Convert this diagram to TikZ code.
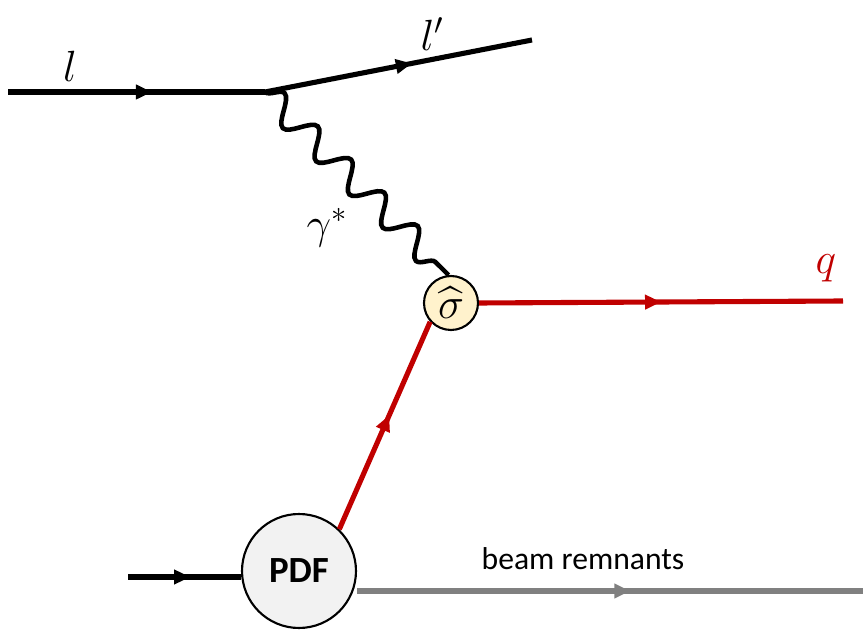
\documentclass[tikz,border=0pt]{standalone}
\usepackage{fontspec}
\setsansfont{Carlito}
\usepackage{amsmath}
\usepackage{xcolor}
\usetikzlibrary{arrows.meta,decorations.markings,decorations.pathmorphing}

\definecolor{quarkred}{HTML}{C00000}
\definecolor{remnantgray}{HTML}{808080}
\definecolor{vertexfill}{HTML}{FFF2CC}
\definecolor{pdffill}{HTML}{F2F2F2}

\begin{document}
\begin{tikzpicture}[
    x=0.02cm, y=-0.02cm,
    every node/.style={inner sep=0pt},
    midarrow/.style={
        decoration={markings,
            mark=at position #1 with {\arrow{Triangle[length=3.2mm,width=2.8mm]}}},
        postaction={decorate}
    },
    fermion/.style={line width=2.9pt, draw=black, midarrow=#1},
    quark/.style={line width=2.9pt, draw=quarkred, color=quarkred, midarrow=#1},
    remnant/.style={line width=2.9pt, draw=remnantgray, color=remnantgray, midarrow=#1},
    photon/.style={line width=2.6pt, decorate,
        decoration={snake, segment length=9.4mm, amplitude=2.6mm}},
    blob/.style={circle, draw=black, line width=1.2pt}
]
\useasboundingbox (0,0) rectangle (863,631);

% Lepton side
\coordinate (lin) at (8,92);
\coordinate (vtx) at (265,92);
\coordinate (lout) at (532,40);

% Blobs
\node[blob, fill=vertexfill, minimum size=1.08cm] (sigma) at (451,303)
    {\fontsize{26}{28}\selectfont$\widehat{\sigma}$};
\node[blob, fill=pdffill, minimum size=2.28cm] (pdf) at (299,571)
    {\fontsize{21}{23}\selectfont\sffamily\bfseries PDF};

\coordinate (qend) at (843,301);
\coordinate (pin) at (128,577);
\coordinate (rend) at (863,591);

% Lines
\draw[fermion=0.56] (lin) -- (vtx);
\draw[fermion=0.55] (vtx) -- (lout);
\draw[photon] (vtx) -- (sigma.95);
\draw[quark=0.5] (sigma.east) -- (qend);
\draw[quark=0.55] (pdf.46) -- (sigma.222);
\draw[fermion=0.55] (pin) -- (pdf.west |- pin);
\draw[remnant=0.54] (pdf.east |- rend) -- (rend);

% Labels
\node (lbl) at (70,66) {\fontsize{24}{26}\selectfont$l$};
\node (lblp) at (432,34) {\fontsize{24}{26}\selectfont$l'$};
\node (lgam) at (327,228) {\fontsize{24}{26}\selectfont$\gamma^*$};
\node (lq) at (826,268) {\fontsize{24}{26}\selectfont\color{quarkred}$q$};
\node (lrem) at (583,559) {\fontsize{18}{20}\selectfont\sffamily beam remnants};

\end{tikzpicture}
\end{document}
